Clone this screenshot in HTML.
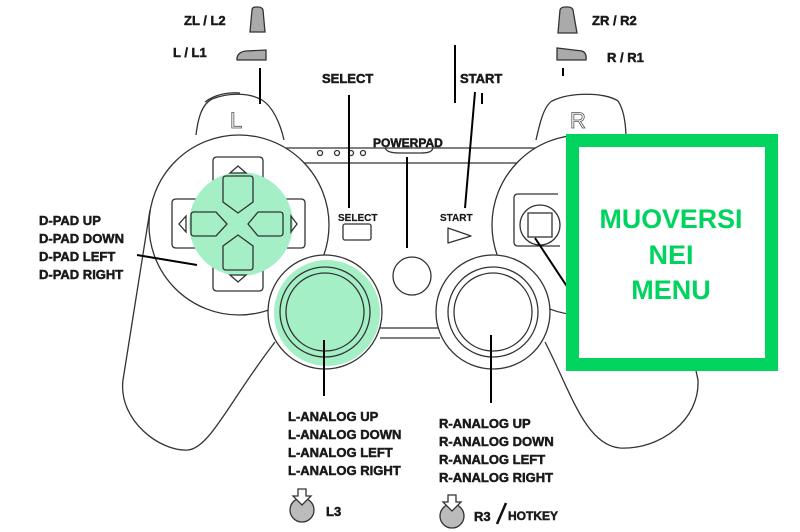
<!DOCTYPE html>
<html><head><meta charset="utf-8"><style>
html,body{margin:0;padding:0;background:#fff;width:800px;height:532px;overflow:hidden}
svg{display:block}
.l{font-family:"Liberation Sans",sans-serif;font-weight:bold;fill:#1a1a1a;stroke:#1a1a1a;stroke-width:0.5}
</style></head><body>
<svg width="800" height="532" viewBox="0 0 800 532" xmlns="http://www.w3.org/2000/svg">
<g fill="none" stroke="#333" stroke-width="1.3">
<path d="M196,135 C198,118 202,104 212,99 C230,92 250,93 262,100 C272,106 280,122 284,140" fill="#fff"/>
<path d="M205,102 C215,94 230,92 240,93"/>
<path d="M536,140 C540,122 544,106 552,101 C570,92 605,92 618,101 C624,110 626,124 626,140" fill="#fff"/>
<path d="M285,148 L545,148 M285,163 L545,163"/>
<path d="M385,148 C387,152 392,153 400,153 L420,153 C428,153 432,152 433,148"/>
<path d="M150,210 L123,380 C118,420 160,452 188,450 C210,448 230,400 275,342" fill="#fff"/>
<path d="M545,342 C570,390 585,445 620,448 C660,450 700,420 698,380 L670,250" fill="#fff"/>
<circle cx="239" cy="225" r="90" fill="#fff"/>
<circle cx="582" cy="225" r="90" fill="#fff"/>
<path d="M380,328 L440,328 M380,338 L440,338"/>
</g>
<g fill="none" stroke="#333" stroke-width="1.3">
<path d="M217,157 L259,157 Q263,157 263,161 L263,199 L301,199 Q305,199 305,203 L305,244 Q305,248 301,248 L263,248 L263,287 Q263,291 259,291 L217,291 Q213,291 213,287 L213,248 L176,248 Q172,248 172,244 L172,203 Q172,199 176,199 L213,199 L213,161 Q213,157 217,157Z" fill="#fff"/>
</g>
<circle cx="241" cy="224" r="52" fill="#a4efc6"/>
<g fill="none" stroke="#333" stroke-width="1.3">
<path d="M226,176 L250,176 Q253,176 253,179 L253,202 L238,213 L223,202 L223,179 Q223,176 226,176Z"/>
<path d="M226,270 L250,270 Q253,270 253,267 L253,246 L238,235 L223,246 L223,267 Q223,270 226,270Z"/>
<path d="M194,212 L216,212 L227,224 L216,236 L194,236 Q191,236 191,233 L191,215 Q191,212 194,212Z"/>
<path d="M280,212 L258,212 L248,224 L258,236 L280,236 Q283,236 283,233 L283,215 Q283,212 280,212Z"/>
<path d="M230,173 L238,166 L246,173Z M230,275 L238,282 L246,275Z M186,216 L179,224 L186,232Z M291,216 L297,224 L291,232Z"/>
<circle cx="325" cy="312" r="57" fill="#fff"/>
</g>
<circle cx="327" cy="313" r="53" fill="#a4efc6"/>
<g fill="none" stroke="#333" stroke-width="1.3">
<circle cx="325" cy="312" r="45"/><circle cx="325" cy="312" r="39"/>
<circle cx="493" cy="312" r="57" fill="#fff"/><circle cx="493" cy="312" r="45"/><circle cx="493" cy="312" r="39"/>
<circle cx="412" cy="276" r="19" fill="#fff"/>
<rect x="343" y="224" width="28" height="16" rx="2"/>
<path d="M448,228 L471,236 L448,243Z" stroke-linejoin="round"/>
<circle cx="320" cy="153" r="2.5"/><circle cx="337" cy="153" r="2.5"/><circle cx="351" cy="153" r="2.5"/><circle cx="363" cy="153" r="2.5"/>
<path d="M518,194 L558,194 M518,194 Q514,194 514,198 L514,242 Q514,246 518,246 L560,246"/>
<circle cx="540" cy="225" r="20"/><rect x="528" y="213" width="24" height="24"/>
</g>
<text x="230" y="128" font-family="Liberation Sans,sans-serif" font-size="22" fill="#fff" stroke="#555" stroke-width="0.8">L</text>
<text x="570" y="128" font-family="Liberation Sans,sans-serif" font-size="22" fill="#fff" stroke="#555" stroke-width="0.8">R</text>
<g stroke="#000" stroke-width="2" fill="none">
<path d="M260,68 L260,104 M349,95 L349,208 M475,92 L465,208 M407,157 L407,248 M455,45 L455,103 M482,93 L482,104 M563,68 L563,76"/>
<path d="M137,255 L197,265"/>
<path d="M324,340 L324,396 M491,335 L491,403"/>
<path d="M535,238 L568,288"/>
</g>
<g fill="#aaa" stroke="#333" stroke-width="1.3">
<path d="M250,32 L265,32 L263,10 Q262,7 258,7 L256,7 Q252,7 252,10Z"/>
<path d="M237,60 L266,60 L266,50 L246,51 Q238,52 237,58Z"/>
<path d="M558,33 L577,33 L573,10 Q572,7 568,7 L565,7 Q561,7 560,10Z"/>
<path d="M557,48 L557,60 L586,60 Q587,53 582,51 Z"/>
</g>
<g class="l" font-size="13">
<text x="184" y="25">ZL / L2</text>
<text x="173" y="57">L / L1</text>
<text x="592" y="25">ZR / R2</text>
<text x="607" y="62">R / R1</text>
<text x="322" y="83">SELECT</text>
<text x="460" y="83">START</text>
<text x="373" y="147" font-size="12">POWERPAD</text>
<text x="338" y="221" font-size="10" stroke-width="0.2">SELECT</text>
<text x="440" y="221" font-size="10" stroke-width="0.2">START</text>
<text x="39" y="225">D-PAD UP</text>
<text x="39" y="243">D-PAD DOWN</text>
<text x="39" y="261">D-PAD LEFT</text>
<text x="39" y="279">D-PAD RIGHT</text>
<text x="288" y="421">L-ANALOG UP</text>
<text x="288" y="439">L-ANALOG DOWN</text>
<text x="288" y="457">L-ANALOG LEFT</text>
<text x="288" y="475">L-ANALOG RIGHT</text>
<text x="439" y="428">R-ANALOG UP</text>
<text x="439" y="446">R-ANALOG DOWN</text>
<text x="439" y="464">R-ANALOG LEFT</text>
<text x="439" y="482">R-ANALOG RIGHT</text>
<text x="326" y="516">L3</text>
<text x="474" y="521">R3</text>
<text x="508" y="520" font-size="12">HOTKEY</text>
</g>
<path d="M497,524 L506,503" stroke="#111" stroke-width="2.5"/>
<g stroke="#333" stroke-width="1.3">
<circle cx="302" cy="510" r="12" fill="#bbb"/>
<path d="M298,489 L306,489 L306,496 L311,496 L302,505 L293,496 L298,496Z" fill="#fff"/>
<circle cx="452" cy="516" r="12" fill="#bbb"/>
<path d="M448,495 L456,495 L456,502 L461,502 L452,511 L443,502 L448,502Z" fill="#fff"/>
</g>
<rect x="572.5" y="140.5" width="199" height="224" fill="#fff" stroke="#00d45f" stroke-width="13"/>
<g font-family="Liberation Sans,sans-serif" font-weight="bold" font-size="27" fill="#00d45f" text-anchor="middle">
<text x="671" y="228" textLength="143" lengthAdjust="spacingAndGlyphs">MUOVERSI</text>
<text x="671" y="264">NEI</text>
<text x="671" y="299">MENU</text>
</g>
</svg>
</body></html>
